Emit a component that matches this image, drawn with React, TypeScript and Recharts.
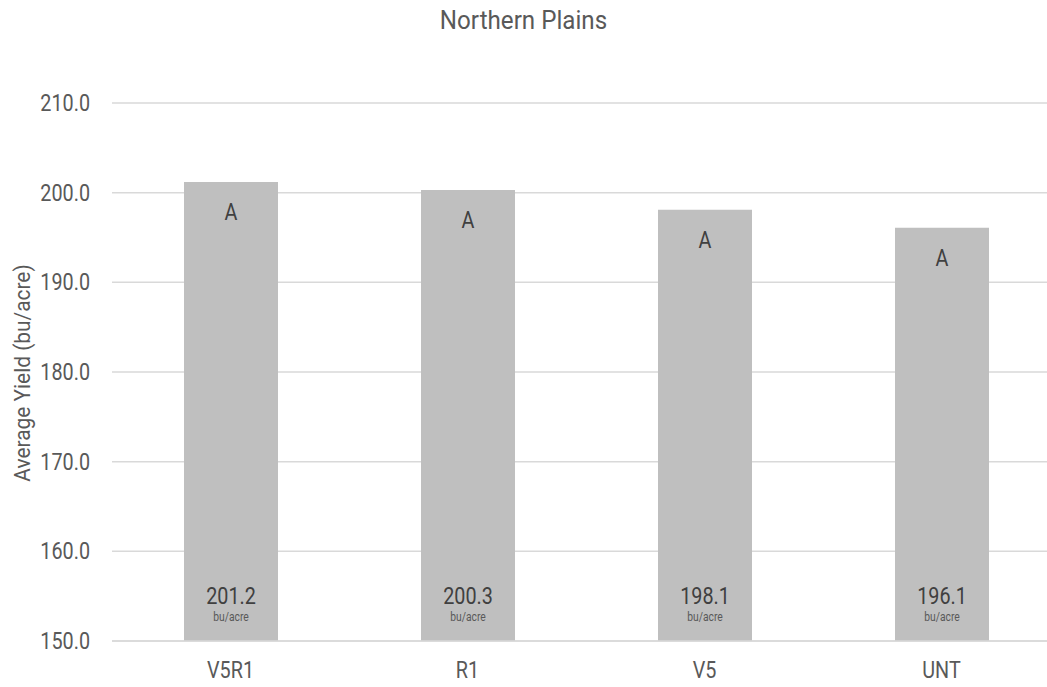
import React from 'react';
import { BarChart, Bar, XAxis, YAxis, CartesianGrid, LabelList } from 'recharts';

const categories = ['V5R1', 'R1', 'V5', 'UNT'];
const yields = [201.2, 200.3, 198.1, 196.1];
const groups = ['A', 'A', 'A', 'A'];
const yTicks = [150, 160, 170, 180, 190, 200, 210];
const unitLabel = 'bu/acre';
const chartTitle = 'Northern Plains';
const yTitle = 'Average Yield (bu/acre)';

const data = categories.map((c, i) => ({ name: c, value: yields[i], group: groups[i] }));

const FONT = 'Roboto, "DejaVu Sans Condensed", sans-serif';
const TEXT = '#595959';
const INNER = '#404040';

type CTProps = {
  x: number;
  y: number;
  size: number;
  sx?: number;
  anchor?: 'start' | 'middle' | 'end';
  rotate?: number;
  fill?: string;
  children: React.ReactNode;
};

const CText = ({ x, y, size, sx = 0.86, anchor = 'middle', rotate = 0, fill = TEXT, children }: CTProps) => (
  <text
    transform={`translate(${x} ${y}) rotate(${rotate}) scale(${sx} 1)`}
    x={0}
    y={0}
    textAnchor={anchor}
    dominantBaseline="central"
    fill={fill}
    fontSize={size}
    fontWeight={400}
    fontFamily={FONT}
  >
    {children}
  </text>
);

const YTick = (props: any) => {
  const { x, y, payload } = props;
  return (
    <CText x={x} y={y} size={23} anchor="end">
      {Number(payload.value).toFixed(1)}
    </CText>
  );
};

const XTick = (props: any) => {
  const { x, y, payload } = props;
  return (
    <CText x={x} y={y + 29} size={23}>
      {payload.value}
    </CText>
  );
};

const TopLabel = (props: any) => {
  const { x, y, width, index } = props;
  return (
    <CText x={x + width / 2} y={y + 30} size={23} fill={INNER}>
      {groups[index]}
    </CText>
  );
};

const BottomLabel = (props: any) => {
  const { x, y, width, height, value } = props;
  const base = y + height;
  return (
    <g>
      <CText x={x + width / 2} y={base - 45} size={23} fill={INNER}>
        {Number(value).toFixed(1)}
      </CText>
      <CText x={x + width / 2} y={base - 24} size={12} fill={TEXT}>
        {unitLabel}
      </CText>
    </g>
  );
};

const YTitle = () => (
  <CText x={22} y={373} size={22} sx={0.95} rotate={-90}>
    {yTitle}
  </CText>
);

export default function App() {
  return (
    <div style={{ position: 'fixed', left: 0, top: 0, width: 1047, height: 687, overflow: 'hidden', background: '#fff' }}>
      <svg width={1047} height={40} style={{ position: 'absolute', left: 0, top: 0 }}>
        <CText x={523.5} y={20} size={26} sx={0.93}>
          {chartTitle}
        </CText>
      </svg>
      <BarChart width={1060} height={687} data={data} margin={{ top: 103, right: 0, left: 0, bottom: 0 }} barSize={94}>
        <CartesianGrid vertical={false} stroke="#D9D9D9" strokeWidth={1.5} />
        <XAxis
          dataKey="name"
          height={46}
          axisLine={{ stroke: '#D9D9D9', strokeWidth: 1.5 }}
          tickLine={false}
          tickSize={0}
          tickMargin={0}
          tick={<XTick />}
        />
        <YAxis
          width={112}
          domain={[150, 210]}
          ticks={yTicks}
          interval={0}
          axisLine={false}
          tickLine={false}
          tickSize={0}
          tickMargin={22}
          tick={<YTick />}
          label={<YTitle />}
        />
        <Bar dataKey="value" fill="#BFBFBF" isAnimationActive={false}>
          <LabelList dataKey="value" content={<TopLabel />} />
          <LabelList dataKey="value" content={<BottomLabel />} />
        </Bar>
      </BarChart>
    </div>
  );
}
